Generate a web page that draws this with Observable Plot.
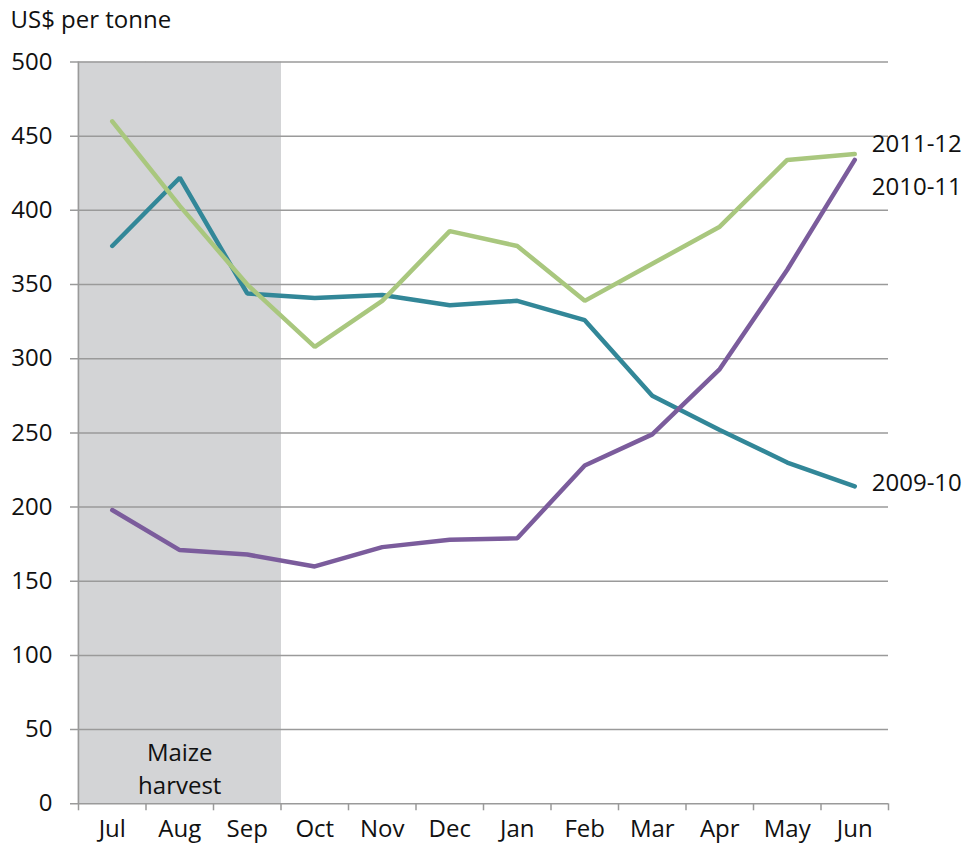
<!DOCTYPE html>
<html>
<head>
<meta charset="utf-8">
<script src="https://cdn.jsdelivr.net/npm/d3@7"></script>
<script src="https://cdn.jsdelivr.net/npm/@observablehq/plot@0.6"></script>
<style>
  html, body { margin: 0; padding: 0; background: #fff; }
  #chart svg { display: block; }
</style>
</head>
<body>
<div id="chart"></div>
<script>
const months = ["Jul","Aug","Sep","Oct","Nov","Dec","Jan","Feb","Mar","Apr","May","Jun"];
const harvestMonths = ["Jul","Aug","Sep"];
const yTicks = [0,50,100,150,200,250,300,350,400,450,500];
const series = ["2009-10","2010-11","2011-12"];
const values0910 = [376,422,344,341,343,336,339,326,275,252,230,214];
const values1011 = [198,171,168,160,173,178,179,228,249,293,360,434];
const values1112 = [460,403,350,308,339,386,376,339,364,389,434,438];
const colors = ["#328798","#7b5c9c","#a9c77e"];
const labelDy = [-3, 27, -10];

const allValues = [values0910, values1011, values1112];
const data = [];
series.forEach((s, i) => months.forEach((m, j) => data.push({series: s, month: m, value: allValues[i][j]})));

const W = 971, H = 845;
const mL = 78, mR = 83, mT = 61.5, mB = 41.7;
const bw = (W - mL - mR) / months.length;
const font = "'Open Sans', sans-serif";
const grid = "#9a9a9a";

const endLabels = series.map((s, i) =>
  Plot.text([{series: s, month: "Jun", value: allValues[i][11]}], {
    x: "month", y: "value", text: "series", dx: 17, dy: labelDy[i],
    textAnchor: "start", fontSize: 24, fill: "#111"
  })
);

const chart = Plot.plot({
  width: W, height: H,
  marginLeft: mL, marginRight: mR, marginTop: mT, marginBottom: mB,
  style: {fontFamily: font, fontSize: "24px", color: "#111", background: "#fff"},
  x: {type: "band", domain: months, padding: 0, round: false, label: null},
  y: {domain: [0, 500], label: null},
  color: {domain: series, range: colors},
  marks: [
    Plot.barY(harvestMonths, {x: d => d, y1: 0, y2: 500, fill: "#d3d4d6", insetLeft: -0.5, insetRight: -0.5}),
    Plot.ruleY(yTicks, {stroke: grid, strokeWidth: 1.5, insetLeft: -8}),
    Plot.ruleX(months, {x: d => d, y1: 0, y2: 0, dx: -bw / 2, insetBottom: -7, stroke: grid, strokeWidth: 1.5}),
    Plot.ruleX(["Jun"], {x: d => d, y1: 0, y2: 0, dx: bw / 2, insetBottom: -7, stroke: grid, strokeWidth: 1.5}),
    Plot.ruleX(["Jul"], {x: d => d, y1: 0, y2: 500, dx: -bw / 2, stroke: grid, strokeWidth: 1.5}),
    Plot.axisY({ticks: yTicks, tickSize: 0, tickPadding: 26, fontSize: 24, fill: "#111"}),
    Plot.axisX({tickSize: 0, tickPadding: 16, fontSize: 24, fill: "#111"}),
    Plot.line(data, {x: "month", y: "value", z: "series", stroke: "series", strokeWidth: 4.5, strokeLinejoin: "miter", strokeLinecap: "round"}),
    ...endLabels,
    Plot.text(["Maize\nharvest"], {x: () => "Aug", y: () => 0, text: d => d, lineAnchor: "bottom", lineHeight: 1.35, dy: -10, fontSize: 24, fill: "#111"}),
    Plot.text(["US$ per tonne"], {frameAnchor: "top-left", dx: -68, dy: -42, lineAnchor: "middle", textAnchor: "start", fontSize: 24, fill: "#111"})
  ]
});

document.getElementById("chart").appendChild(chart);
</script>
</body>
</html>
